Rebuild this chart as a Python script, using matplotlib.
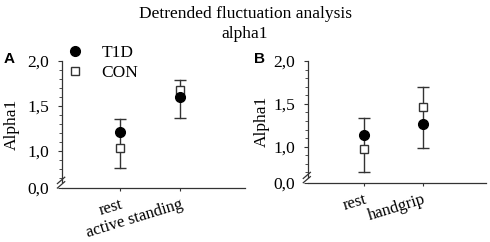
import matplotlib
matplotlib.use("Agg")
import matplotlib.pyplot as plt
import numpy as np
from matplotlib.lines import Line2D

# ---- data ----
cats_a = ["rest", "active standing"]
t1d_a = [1.21, 1.60]
t1d_sd_a = [0.15, 0.23]
con_a = [1.03, 1.68]
con_sd_a = [0.22, 0.11]

cats_b = ["rest", "handgrip"]
t1d_b = [1.14, 1.26]
t1d_sd_b = [0.20, 0.27]
con_b = [0.97, 1.46]
con_sd_b = [0.27, 0.24]

yticks = [1.0, 1.5, 2.0]
ytick_labels = ["1,0", "1,5", "2,0"]
zero_label = "0,0"
title = "Detrended fluctuation analysis\nalpha1"
ylabel = "Alpha1"

serif = ["Liberation Serif", "DejaVu Serif"]
plt.rcParams["font.family"] = serif

fig = plt.figure(figsize=(4.9, 2.42), dpi=100)

def panel(rect, cats, t1d, t1d_sd, con, con_sd, ybottom, letter, letter_x, ylab_x):
    ax = fig.add_axes(rect)
    x = np.arange(1, len(cats) + 1)
    for i in range(len(cats)):
        if t1d[i] >= con[i]:
            hi, hi_sd, lo, lo_sd = t1d[i], t1d_sd[i], con[i], con_sd[i]
        else:
            hi, hi_sd, lo, lo_sd = con[i], con_sd[i], t1d[i], t1d_sd[i]
        ax.plot([x[i], x[i]], [lo - lo_sd, hi + hi_sd], color="#333333", lw=1.0, zorder=1)
        ax.plot([x[i]], [hi + hi_sd], marker="_", ms=9, mew=1.0, color="#333333", zorder=1)
        ax.plot([x[i]], [lo - lo_sd], marker="_", ms=9, mew=1.0, color="#333333", zorder=1)
    ax.plot(x, con, ls="none", marker="s", ms=6, mfc="white", mec="#333333", mew=1.0, zorder=3)
    ax.plot(x, t1d, ls="none", marker="o", ms=7, mfc="black", mec="black", zorder=3)
    ax.set_xlim(0.03, len(cats) + 1.08)
    ax.set_ylim(ybottom, 2.0)
    ax.set_xticks(x)
    ax.set_xticklabels(cats, rotation=17, ha="right", va="top", rotation_mode="anchor", fontsize=12)
    ax.set_yticks([ybottom] + yticks)
    ax.set_yticklabels([zero_label] + ytick_labels, fontsize=12.5)
    ax.set_yticks(np.arange(0.7, 1.95, 0.1), minor=True)
    ax.tick_params(axis="y", which="major", length=3, width=0.8, pad=6, colors="#333333", labelcolor="black")
    ax.tick_params(axis="y", which="minor", length=2, width=0.6, colors="#333333")
    ax.tick_params(axis="x", length=2, width=0.8, pad=4, colors="#333333", labelcolor="black")
    for s in ["top", "right"]:
        ax.spines[s].set_visible(False)
    ax.spines["left"].set_bounds(ybottom + 0.07, 2.0)
    ax.spines["left"].set_color("#333333")
    ax.spines["bottom"].set_color("#333333")
    ax.spines["left"].set_linewidth(0.9)
    ax.spines["bottom"].set_linewidth(0.9)
    # axis break marks
    for dy in (0.0, 0.035):
        ax.add_line(Line2D([-0.025, 0.015], [0.0 + dy, 0.05 + dy], transform=ax.transAxes,
                           color="#333333", lw=0.9, clip_on=False))
    ax.set_ylabel(ylabel, fontsize=12.5)
    ax.yaxis.set_label_coords(ylab_x, 0.5)
    fig.text(letter_x, 0.757, letter, fontsize=11, fontweight="bold",
             family=["Liberation Sans", "DejaVu Sans"], ha="left", va="center")
    return ax

ax_a = panel([0.1265, 0.223, 0.3735, 0.525], cats_a, t1d_a, t1d_sd_a, con_a, con_sd_a,
             0.59, "A", 0.008, -0.232)
ax_b = panel([0.628, 0.245, 0.363, 0.503], cats_b, t1d_b, t1d_sd_b, con_b, con_sd_b,
             0.58, "B", 0.518, -0.215)

handles = [Line2D([], [], ls="none", marker="o", ms=7, mfc="black", mec="black"),
           Line2D([], [], ls="none", marker="s", ms=6, mfc="white", mec="#333333", mew=1.0)]
fig.legend(handles, ["T1D", "CON"], loc="upper left", bbox_to_anchor=(66.7 / 490, 0.815),
           frameon=False, fontsize=12.5, handlelength=1.0, handletextpad=1.0,
           borderpad=0, borderaxespad=0, labelspacing=0.25)

fig.text(0.5, 0.975, title, ha="center", va="top", fontsize=12.5, linespacing=1.3)

fig.savefig("out.png", dpi=100)
